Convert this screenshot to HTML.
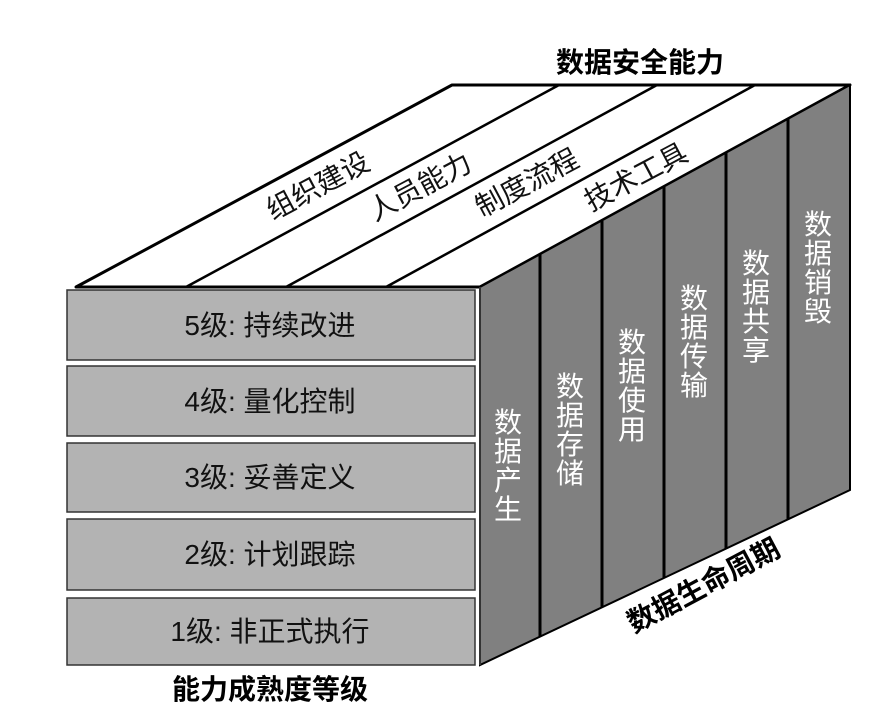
<!DOCTYPE html>
<html><head><meta charset="utf-8"><style>
html,body{margin:0;padding:0;background:#fff;}
svg{display:block;}
text{font-family:"Liberation Sans","Noto Sans CJK SC",sans-serif;}
</style></head><body>
<svg width="893" height="722" viewBox="0 0 893 722" xmlns="http://www.w3.org/2000/svg">
<polygon points="76,287 452,85 850,85 480,287" fill="#fff" stroke="#000" stroke-width="3" stroke-linejoin="round"/>
<line x1="186" y1="287" x2="559" y2="85" stroke="#000" stroke-width="2.5"/>
<line x1="286" y1="287" x2="657" y2="85" stroke="#000" stroke-width="2.5"/>
<line x1="386" y1="287" x2="755" y2="85" stroke="#000" stroke-width="2.5"/>
<polygon points="480,287 850,85 850,490 480,665" fill="#808080" stroke="#000" stroke-width="2"/>
<g stroke="#000" stroke-width="3">
<line x1="540" y1="254" x2="540" y2="637"/>
<line x1="602" y1="221" x2="602" y2="607"/>
<line x1="664" y1="187" x2="664" y2="578"/>
<line x1="726" y1="153" x2="726" y2="549"/>
<line x1="788" y1="119" x2="788" y2="519"/>
</g>
<line x1="480" y1="287" x2="480" y2="665" stroke="#333" stroke-width="2"/>
<g fill="#b3b3b3" stroke="#333" stroke-width="1.5">
<rect x="67" y="290" width="408" height="70"/>
<rect x="67" y="366" width="408" height="70"/>
<rect x="67" y="443" width="408" height="69"/>
<rect x="67" y="519" width="408" height="71"/>
<rect x="67" y="598" width="408" height="67"/>
</g>
<g font-size="28" fill="#111" text-anchor="middle">
<text x="270" y="335">5级: 持续改进</text>
<text x="270" y="411">4级: 量化控制</text>
<text x="270" y="487">3级: 妥善定义</text>
<text x="270" y="564">2级: 计划跟踪</text>
<text x="270" y="641">1级: 非正式执行</text>
</g>
<g font-size="28" fill="#111" text-anchor="middle" dominant-baseline="central">
<text transform="translate(318,186) rotate(-28)">组织建设</text>
<text transform="translate(420,187) rotate(-28)">人员能力</text>
<text transform="translate(527,183) rotate(-28)">制度流程</text>
<text transform="translate(636,177) rotate(-28)">技术工具</text>
</g>
<g font-size="28" fill="#fff" text-anchor="middle">
<text x="508" y="432">数</text><text x="508" y="461">据</text><text x="508" y="490">产</text><text x="508" y="519">生</text>
<text x="570" y="396">数</text><text x="570" y="425">据</text><text x="570" y="454">存</text><text x="570" y="483">储</text>
<text x="632" y="352">数</text><text x="632" y="381">据</text><text x="632" y="410">使</text><text x="632" y="439">用</text>
<text x="694" y="308">数</text><text x="694" y="337">据</text><text x="694" y="366">传</text><text x="694" y="395">输</text>
<text x="756" y="273">数</text><text x="756" y="302">据</text><text x="756" y="331">共</text><text x="756" y="360">享</text>
<text x="818" y="234">数</text><text x="818" y="263">据</text><text x="818" y="292">销</text><text x="818" y="321">毁</text>
</g>
<g font-size="28" font-weight="bold" fill="#000" text-anchor="middle">
<text x="640" y="72">数据安全能力</text>
<text x="270" y="699">能力成熟度等级</text>
<text transform="translate(708,594) rotate(-28)">数据生命周期</text>
</g>
</svg>
</body></html>
